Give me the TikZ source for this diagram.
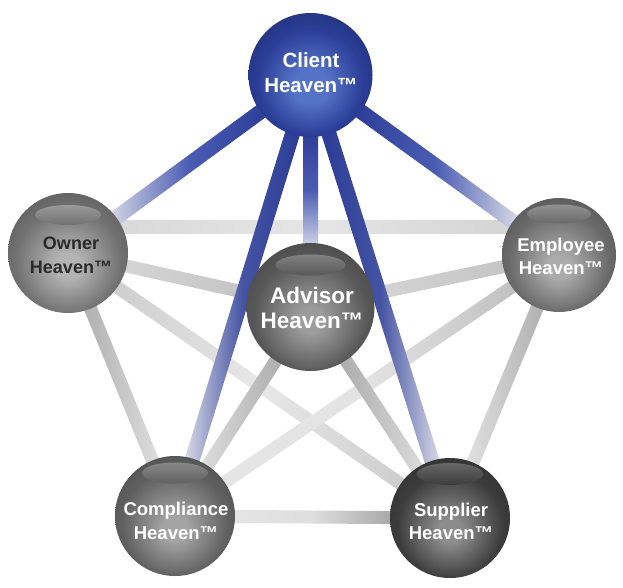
\documentclass[tikz,border=0pt]{standalone}
\usepackage{fontspec}
\setmainfont{Liberation Sans}
\usetikzlibrary{calc}

\definecolor{clC}{HTML}{5573C6}
\definecolor{clE}{HTML}{2B3E98}
\definecolor{owC}{HTML}{B4B4B4}
\definecolor{owE}{HTML}{717171}
\definecolor{emC}{HTML}{ABABAB}
\definecolor{emE}{HTML}{6A6A6A}
\definecolor{adC}{HTML}{9C9C9C}
\definecolor{adE}{HTML}{585858}
\definecolor{coC}{HTML}{A4A4A4}
\definecolor{coE}{HTML}{606060}
\definecolor{suC}{HTML}{8C8C8C}
\definecolor{suE}{HTML}{3C3C3C}
\definecolor{blD}{HTML}{2A3B96}
\definecolor{blM}{HTML}{4A5CB2}
\definecolor{blL}{HTML}{DCDDE8}
\definecolor{txtDark}{HTML}{2A2A2A}

\pgfdeclareradialshading{shclient}{\pgfpoint{0bp}{-5bp}}{color(0bp)=(clC); color(7bp)=(clC); color(21bp)=(clE); color(28bp)=(clE!85!black); color(50bp)=(clE!85!black)}
\pgfdeclareradialshading{showner}{\pgfpoint{0bp}{-6bp}}{color(0bp)=(owC); color(5bp)=(owC); color(22bp)=(owE); color(30bp)=(owE!85!black); color(50bp)=(owE!85!black)}
\pgfdeclareradialshading{shemployee}{\pgfpoint{0bp}{-6bp}}{color(0bp)=(emC); color(5bp)=(emC); color(22bp)=(emE); color(30bp)=(emE!85!black); color(50bp)=(emE!85!black)}
\pgfdeclareradialshading{shadvisor}{\pgfpoint{0bp}{-6bp}}{color(0bp)=(adC); color(5bp)=(adC); color(22bp)=(adE); color(30bp)=(adE!85!black); color(50bp)=(adE!85!black)}
\pgfdeclareradialshading{shcompliance}{\pgfpoint{0bp}{-6bp}}{color(0bp)=(coC); color(5bp)=(coC); color(22bp)=(coE); color(30bp)=(coE!85!black); color(50bp)=(coE!85!black)}
\pgfdeclareradialshading{shsupplier}{\pgfpoint{0bp}{-6bp}}{color(0bp)=(suC); color(5bp)=(suC); color(22bp)=(suE); color(30bp)=(suE!85!black); color(50bp)=(suE!85!black)}

\pgfdeclarelayer{bands}
\pgfdeclarelayer{paper}
\pgfsetlayers{paper,bands,main}

\tikzset{
  sphere/.style={circle, inner sep=0pt, outer sep=0pt, draw=none},
  bandnode/.style={rectangle, inner sep=0pt, outer sep=0pt, draw=none, minimum height=13pt},
  bluefwd/.style={minimum height=15pt, left color=blD, right color=blL, middle color=blM},
  bluerev/.style={minimum height=15pt, left color=blL, right color=blD, middle color=blM},
  lbl/.style={align=center, inner sep=0pt, text=white, font=\bfseries},
}

% name, from (left), to (right), inset, style
\newcommand\edgeband[5]{%
  \path let \p1=($(#2)!#4!(#3)$), \p2=($(#3)!#4!(#2)$),
    \n1={atan2(\y2-\y1,\x2-\x1)}, \n2={veclen(\x2-\x1,\y2-\y1)} in
    node[bandnode, rotate=\n1, minimum width=\n2, anchor=west, #5] (#1) at (\p1) {};}

\begin{document}
\begin{tikzpicture}[x=1pt,y=-1pt]
\useasboundingbox (0,0) rectangle (623,587);
\begin{pgfonlayer}{paper}
\fill[white] (0,0) rectangle (623,587);
\end{pgfonlayer}

% spheres
\node[sphere, minimum size=124pt, shading=shclient] (client) at (310.5,75) {};
\node[sphere, minimum size=120pt, shading=showner] (owner) at (68,253) {};
\node[sphere, minimum size=114pt, shading=shemployee] (employee) at (559,255) {};
\node[sphere, minimum size=128pt, shading=shadvisor] (advisor) at (310.5,307) {};
\node[sphere, minimum size=120pt, shading=shcompliance] (compliance) at (175,516) {};
\node[sphere, minimum size=120pt, shading=shsupplier] (supplier) at (450,518) {};

\coordinate (oe1) at ($(owner)+(0,-26)$);
\coordinate (oe2) at ($(employee)+(0,-28)$);

% highlights
\path[top color=owE!72!white, bottom color=owE] ($(owner)+(0,-38)$) ellipse [x radius=33pt, y radius=10pt];
\path[top color=emE!74!white, bottom color=emE] ($(employee)+(0,-41)$) ellipse [x radius=32pt, y radius=9.5pt];
\path[top color=adE!75!white, bottom color=adE] ($(advisor)+(0,-42)$) ellipse [x radius=35pt, y radius=10.5pt];
\path[top color=coE!75!white, bottom color=coE] ($(compliance)+(0,-43)$) ellipse [x radius=33pt, y radius=10.5pt];
\path[top color=suE!78!white, bottom color=suE] ($(supplier)+(0,-44)$) ellipse [x radius=33pt, y radius=11pt];

% labels
\node[lbl, font=\bfseries\fontsize{20.5}{25}\selectfont] (clientlbl) at (311,72.5) {Client\\Heaven™};
\node[lbl, text=txtDark, font=\bfseries\fontsize{18}{24}\selectfont] (ownerlbl) at (71,255) {Owner\\Heaven™};
\node[lbl, font=\bfseries\fontsize{18.5}{23.5}\selectfont] (employeelbl) at (561,256.5) {Employee\\Heaven™};
\node[lbl, font=\bfseries\fontsize{22.5}{25}\selectfont] (advisorlbl) at (312,307.5) {Advisor\\Heaven™};
\node[lbl, font=\bfseries\fontsize{18.5}{24}\selectfont] (compliancelbl) at (176,520.5) {Compliance\\Heaven™};
\node[lbl, font=\bfseries\fontsize{18.5}{23.5}\selectfont] (supplierlbl) at (451,521.5) {Supplier\\Heaven™};

\begin{pgfonlayer}{bands}
% gray connectors (always drawn left to right)
\edgeband{bOE}{oe1}{oe2}{42pt}{left color=black!15, right color=black!17, middle color=black!10}
\edgeband{bOA}{owner}{advisor}{48pt}{left color=black!16, right color=black!24}
\edgeband{bOC}{owner}{compliance}{48pt}{left color=black!32, right color=black!12}
\edgeband{bOS}{owner}{supplier}{48pt}{left color=black!20, right color=black!20, middle color=black!9}
\edgeband{bEA}{advisor}{employee}{48pt}{left color=black!16, right color=black!23}
\edgeband{bEC}{compliance}{employee}{48pt}{left color=black!10, right color=black!25, middle color=black!11}
\edgeband{bES}{supplier}{employee}{48pt}{left color=black!11, right color=black!32}
\edgeband{bAC}{compliance}{advisor}{48pt}{left color=black!12, right color=black!34}
\edgeband{bAS}{advisor}{supplier}{48pt}{left color=black!34, right color=black!13}
\edgeband{bCS}{compliance}{supplier}{48pt}{left color=black!10, right color=black!37, middle color=black!13}
% blue connectors
\edgeband{bCO}{owner}{client}{52pt}{bluerev}
\edgeband{bCE}{client}{employee}{52pt}{bluefwd}
\path let \p1=($(client)!52pt!(advisor)$), \p2=($(advisor)!54pt!(client)$),
  \n2={veclen(\x2-\x1,\y2-\y1)} in
  node[bandnode, minimum width=15pt, minimum height=\n2, anchor=north,
       top color=blD, bottom color=blL!80!white, middle color=blM] (bCA) at (\p1) {};
\edgeband{bCC}{compliance}{client}{52pt}{bluerev, middle color=blD!85!blL}
\edgeband{bCSu}{client}{supplier}{52pt}{bluefwd, middle color=blD!85!blL}
\end{pgfonlayer}
\end{tikzpicture}
\end{document}
